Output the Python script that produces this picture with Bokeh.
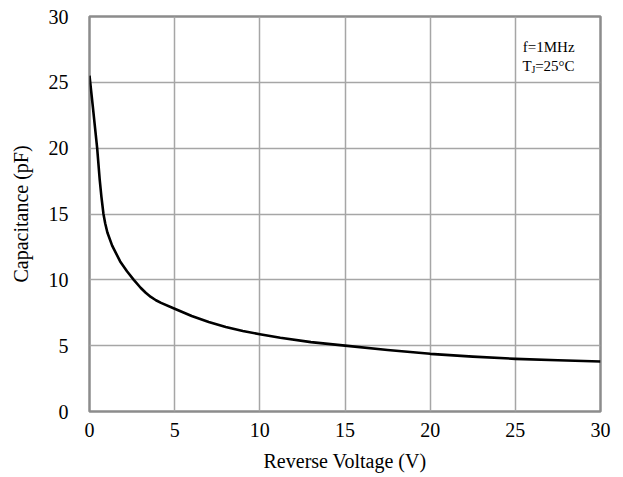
from bokeh.plotting import figure
from bokeh.models import Label, Range1d, FixedTicker
from bokeh.embed import file_html
from bokeh.resources import INLINE

voltage = [0, 0.2, 0.45, 0.6, 0.7, 0.82, 0.92, 1.05, 1.33, 1.8, 2.2, 2.6, 3.0, 3.3, 3.6, 3.9, 4.2, 5, 6, 7, 8, 9, 10, 11.2, 13, 15, 17.5, 20, 22.5, 25, 27.5, 30]
capacitance = [25.5, 23.1, 20.0, 17.6, 16.3, 15.0, 14.3, 13.6, 12.6, 11.4, 10.65, 10.0, 9.4, 9.02, 8.7, 8.45, 8.25, 7.8, 7.25, 6.8, 6.42, 6.12, 5.87, 5.6, 5.27, 5.0, 4.67, 4.38, 4.17, 4.0, 3.89, 3.8]
x_ticks = [0, 5, 10, 15, 20, 25, 30]
y_ticks = [0, 5, 10, 15, 20, 25, 30]

FONT = "Liberation Serif"
GRID = "#a6a6a6"

p = figure(width=623, height=477, output_backend="svg", toolbar_location=None,
           x_range=Range1d(0, 30), y_range=Range1d(0, 30),
           min_border_left=89, min_border_right=23, min_border_top=16, min_border_bottom=66)
p.background_fill_color = "white"
p.border_fill_color = "white"
p.outline_line_color = "#8c8c8c"
p.outline_line_width = 2.5

for ax, ticks in ((p.xaxis, x_ticks), (p.yaxis, y_ticks)):
    ax.ticker = FixedTicker(ticks=ticks)
    ax.axis_line_color = None
    ax.major_tick_line_color = None
    ax.minor_tick_line_color = None
    ax.major_label_text_font = FONT
    ax.major_label_text_font_size = "20px"
    ax.major_label_text_color = "black"
    ax.axis_label_text_font = FONT
    ax.axis_label_text_font_style = "normal"
    ax.axis_label_text_font_size = "20px"
    ax.axis_label_text_color = "black"

p.xaxis.major_label_standoff = 5
p.yaxis.major_label_standoff = 15
p.xaxis.axis_label = "Reverse Voltage (V)"
p.yaxis.axis_label = "Capacitance (pF)"
p.xaxis.axis_label_standoff = 10
p.yaxis.axis_label_standoff = 14

p.xgrid.grid_line_color = GRID
p.ygrid.grid_line_color = GRID
p.xgrid.grid_line_width = 1.5
p.ygrid.grid_line_width = 1.5

p.line(voltage, capacitance, line_color="black", line_width=2.6, line_join="round")

# annotation
AX = 28.48
p.add_layout(Label(x=AX, y=27.66, text="f=1MHz", text_font=FONT, text_font_size="15px",
                   text_align="right", text_baseline="alphabetic", text_color="black"))
p.add_layout(Label(x=AX, y=26.22, text="=25°C", text_font=FONT, text_font_size="15px",
                   text_align="right", text_baseline="alphabetic", text_color="black"))
p.add_layout(Label(x=AX, y=26.22, x_offset=-43, text="T", text_font=FONT, text_font_size="15px",
                   text_align="right", text_baseline="alphabetic", text_color="black"))
p.add_layout(Label(x=AX, y=26.0, x_offset=-43, text="J", text_font=FONT, text_font_size="10px",
                   text_align="left", text_baseline="alphabetic", text_color="black"))

open("out.html", "w").write(file_html(p, INLINE))
